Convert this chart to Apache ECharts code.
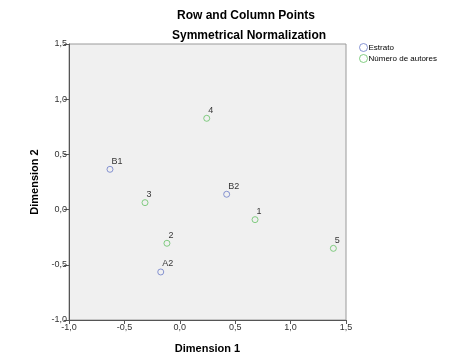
<!DOCTYPE html>
<html>
<head>
<meta charset="utf-8">
<script src="https://cdn.jsdelivr.net/npm/echarts@6/dist/echarts.min.js"></script>
<style>
html,body{margin:0;padding:0;background:#fff;}
#c{width:454px;height:363px;}
</style>
</head>
<body>
<div id="c"></div>
<script>
var estratoLabels = ['B1', 'B2', 'A2'];
var estratoX = [-0.63, 0.423, -0.172];
var estratoY = [0.365, 0.139, -0.565];

var autoresLabels = ['1', '2', '3', '4', '5'];
var autoresX = [0.679, -0.116, -0.314, 0.243, 1.386];
var autoresY = [-0.091, -0.305, 0.063, 0.827, -0.351];

var xTicks = [-1.0, -0.5, 0.0, 0.5, 1.0, 1.5];
var yTicks = [-1.0, -0.5, 0.0, 0.5, 1.0, 1.5];

function fmt(v) { return v.toFixed(1).replace('.', ','); }
function pts(xs, ys, ls) { return xs.map(function (x, i) { return [x, ys[i], ls[i]]; }); }

var FONT = '"Liberation Sans", Arial, sans-serif';
var chart = echarts.init(document.getElementById('c'), null, { renderer: 'canvas' });

function series(name, color, data) {
  return {
    name: name, type: 'scatter', data: data,
    symbol: 'circle', symbolSize: 6,
    itemStyle: { color: 'rgba(0,0,0,0)', borderColor: color, borderWidth: 1 },
    label: {
      show: true, position: [5, -9],
      formatter: function (p) { return p.data[2]; },
      color: '#000', fontSize: 9, fontFamily: FONT
    },
    emphasis: { disabled: true }
  };
}

chart.setOption({
  animation: false,
  backgroundColor: '#fff',
  title: [
    { text: 'Row and Column Points', left: 172, top: 5,
      textStyle: { fontSize: 12, fontWeight: 'bold', color: '#000', fontFamily: FONT } },
    { text: 'Symmetrical Normalization', left: 167, top: 25,
      textStyle: { fontSize: 12, fontWeight: 'bold', color: '#000', fontFamily: FONT } }
  ],
  legend: {
    orient: 'vertical', left: 354, top: 38,
    itemWidth: 8, itemHeight: 8, itemGap: 2,
    icon: 'circle',
    itemStyle: { color: 'rgba(0,0,0,0)', borderWidth: 1 },
    textStyle: { fontSize: 8, color: '#000', fontFamily: FONT, padding: [0, 0, 0, -4] },
    data: ['Estrato', 'Número de autores']
  },
  grid: {
    left: 69, top: 44, width: 277, height: 276,
    show: true, backgroundColor: '#f0f0f0', borderColor: '#9a9a9a', borderWidth: 1
  },
  xAxis: {
    type: 'value', min: -1.0, max: 1.5, interval: 0.5,
    name: 'Dimension 1', nameLocation: 'middle', nameGap: 23,
    nameTextStyle: { fontSize: 11, fontWeight: 'bold', color: '#000', fontFamily: FONT },
    axisLine: { show: true, onZero: false, lineStyle: { color: '#555', width: 1 } },
    axisTick: { show: true, length: 4, lineStyle: { color: '#555' } },
    axisLabel: { fontSize: 9, color: '#333', margin: 3, fontFamily: FONT,
      formatter: function (v) { return fmt(v); } },
    splitLine: { show: false }
  },
  yAxis: {
    type: 'value', min: -1.0, max: 1.5, interval: 0.5,
    name: 'Dimension 2', nameLocation: 'middle', nameGap: 23, nameRotate: 90,
    nameTextStyle: { fontSize: 11, fontWeight: 'bold', color: '#000', fontFamily: FONT },
    axisLine: { show: true, onZero: false, lineStyle: { color: '#555', width: 1 } },
    axisTick: { show: true, length: 5, lineStyle: { color: '#555' } },
    axisLabel: { fontSize: 9, color: '#333', margin: 2, fontFamily: FONT,
      formatter: function (v) { return fmt(v); } },
    splitLine: { show: false }
  },
  series: [
    series('Estrato', '#6b7cc8', pts(estratoX, estratoY, estratoLabels)),
    series('Número de autores', '#66c266', pts(autoresX, autoresY, autoresLabels))
  ]
});
</script>
</body>
</html>
